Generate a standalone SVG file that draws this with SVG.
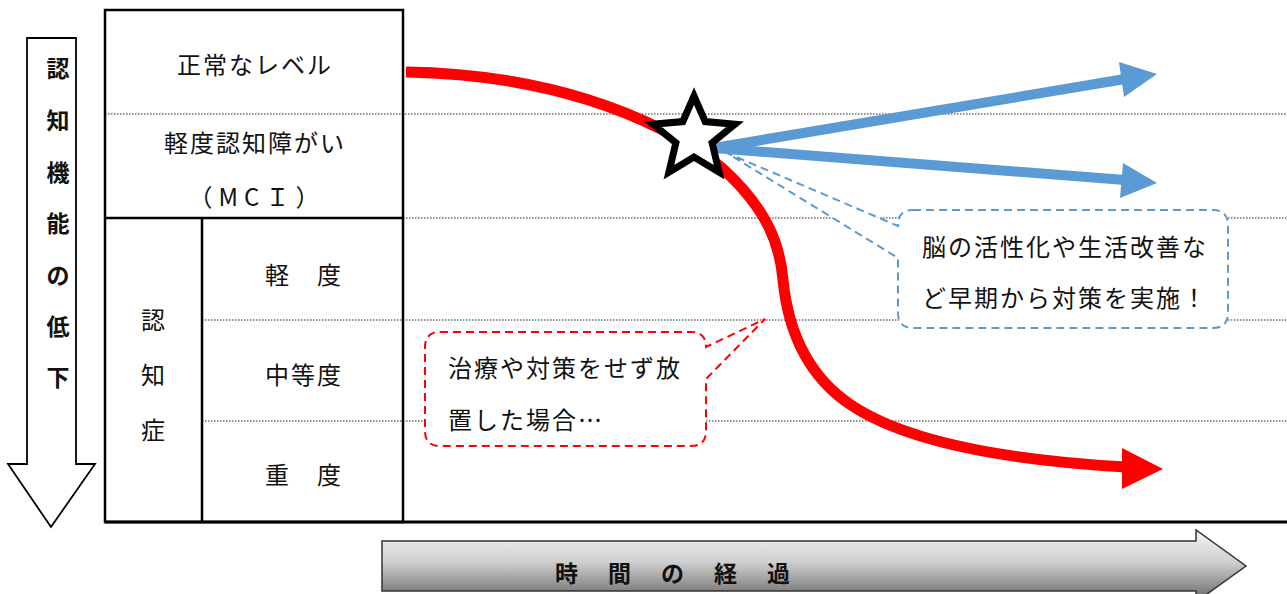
<svg xmlns="http://www.w3.org/2000/svg" width="1287" height="594" viewBox="0 0 1287 594">
<defs>
<style>
.t{font-family:"Noto Sans CJK JP","Noto Sans",sans-serif;font-size:24px;fill:#111;}
.c{text-anchor:middle;dominant-baseline:central;}
.s{dominant-baseline:central;}
.b{font-weight:bold;font-size:23px;}
.dot{stroke:#222;stroke-width:1;stroke-dasharray:1.5 1.5;fill:none;}
.solid{stroke:#000;stroke-width:2.5;fill:none;}
</style>
<linearGradient id="gr" x1="0" y1="530" x2="0" y2="600" gradientUnits="userSpaceOnUse">
<stop offset="0" stop-color="#f4f4f4"/>
<stop offset="0.45" stop-color="#d0d0d0"/>
<stop offset="1" stop-color="#6a6a6a"/>
</linearGradient>
</defs>
<rect width="1287" height="594" fill="#fff"/>

<g id="grid">
<line class="dot" x1="105" y1="114" x2="1287" y2="114"/>
<line class="dot" x1="403" y1="218" x2="1287" y2="218"/>
<line class="dot" x1="202" y1="320" x2="1287" y2="320"/>
<line class="dot" x1="202" y1="421" x2="1287" y2="421"/>
<rect class="solid" x="105" y="10" width="298" height="512"/>
<line class="solid" x1="105" y1="218" x2="403" y2="218"/>
<line class="solid" x1="202" y1="218" x2="202" y2="522"/>
<line x1="105" y1="522" x2="1287" y2="522" stroke="#000" stroke-width="3"/>
</g>

<g id="labels">
<text class="t c" x="255" y="63" letter-spacing="2">正常なレベル</text>
<text class="t c" x="255" y="141" letter-spacing="2">軽度認知障がい</text>
<text class="t c" x="257" y="195" letter-spacing="6">（MCＩ）</text>
<text class="t c" x="304" y="273" letter-spacing="2">軽　度</text>
<text class="t c" x="304" y="373" letter-spacing="2">中等度</text>
<text class="t c" x="304" y="473" letter-spacing="2">重　度</text>
<text class="t c" x="153" y="318">認</text>
<text class="t c" x="153" y="373">知</text>
<text class="t c" x="153" y="428">症</text>
</g>

<g id="axis-y">
<path d="M27,38 H76 V464 H95 L51,527 L8,464 H27 Z" fill="#fff" stroke="#000" stroke-width="1.8"/>
<text class="t c b" x="58" y="67">認</text>
<text class="t c b" x="58" y="119">知</text>
<text class="t c b" x="58" y="171">機</text>
<text class="t c b" x="58" y="222">能</text>
<text class="t c b" x="58" y="274">の</text>
<text class="t c b" x="58" y="325">低</text>
<text class="t c b" x="58" y="376">下</text>
</g>

<g id="axis-x">
<path d="M382,541 H1196 V530 L1246,566 L1196,602 V591 H382 Z" fill="url(#gr)" stroke="#333" stroke-width="1.5"/>
<text class="t s b" x="555" y="572" letter-spacing="30">時間の経過</text>
</g>

<g id="connectors">
<path d="M406,72 C540,74 652,112 722,168 C768,210 780,245 783,280 C788,330 806,375 851,405 C911,445 1020,461 1126,467" fill="none" stroke="#ff0000" stroke-width="11"/>
<polygon points="1122,448 1163,469 1122,489" fill="#ff0000"/>
<line x1="714" y1="148" x2="1125" y2="79" stroke="#5b9bd5" stroke-width="10"/>
<polygon points="1119,62 1157,74 1124,97" fill="#5b9bd5"/>
<line x1="714" y1="148" x2="1125" y2="180" stroke="#5b9bd5" stroke-width="10"/>
<polygon points="1123,163 1157,183 1120,198" fill="#5b9bd5"/>
</g>

<g id="star">
<path d="M694,96 L705.2,121.6 L735,124.3 L712.1,142.9 L719.1,172.2 L694,157 L668.9,172.2 L675.9,142.9 L653,124.3 L682.8,121.6 Z" fill="#fff" stroke="#000" stroke-width="7" stroke-miterlimit="10"/>
</g>

<g id="callout-blue">
<path d="M913,210 H1213 Q1228,210 1228,225 V313 Q1228,328 1213,328 H913 Q898,328 898,313 V258 L727,153 L898,226 V225 Q898,210 913,210 Z" fill="#fff" stroke="#5b9bd5" stroke-width="2" stroke-dasharray="8 5"/>
<text class="t s" x="922" y="245" letter-spacing="2">脳の活性化や生活改善な</text>
<text class="t s" x="922" y="296" letter-spacing="2">ど早期から対策を実施！</text>
</g>

<g id="callout-red">
<path d="M440,332 H691 Q706,332 706,347 L765,319 L706,379 V431 Q706,446 691,446 H440 Q425,446 425,431 V347 Q425,332 440,332 Z" fill="#fff" stroke="#ff0000" stroke-width="2" stroke-dasharray="8 5"/>
<text class="t s" x="448" y="366" letter-spacing="2">治療や対策をせず放</text>
<text class="t s" x="448" y="418" letter-spacing="2">置した場合…</text>
</g>
</svg>
